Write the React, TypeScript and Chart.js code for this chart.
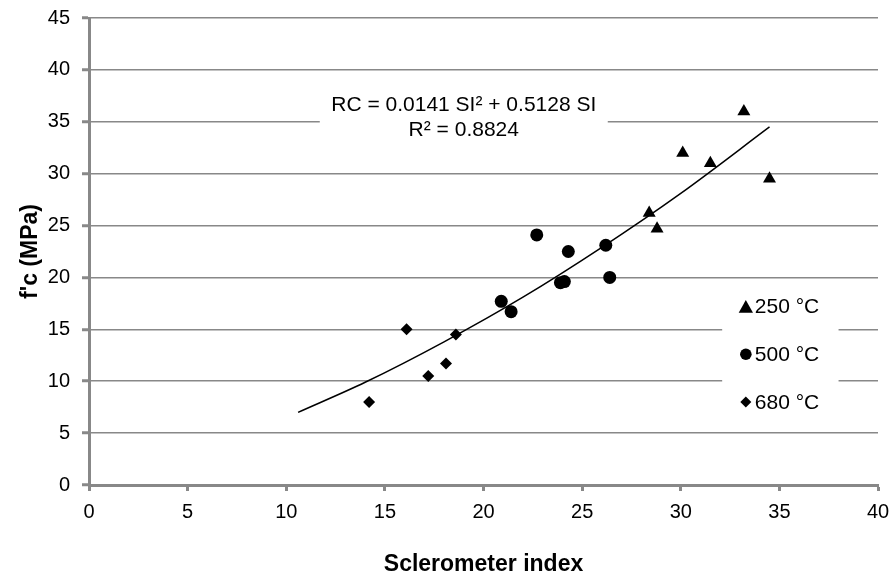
import React, { useEffect, useRef } from "react";
import { Chart, registerables } from "chart.js";

Chart.register(...registerables);

// 250 °C (triangles)
const tri250X = [33.2, 30.1, 31.5, 34.5, 28.4, 28.8];
const tri250Y = [36.0, 32.0, 31.0, 29.5, 26.2, 24.7];
// 500 °C (circles)
const cir500X = [22.7, 24.3, 26.2, 26.4, 23.9, 24.1, 20.9, 21.4];
const cir500Y = [24.1, 22.5, 23.1, 20.0, 19.5, 19.6, 17.7, 16.7];
// 680 °C (diamonds)
const dia680X = [16.1, 18.6, 18.1, 17.2, 14.2];
const dia680Y = [15.0, 14.5, 11.7, 10.5, 8.0];
// trend line
const trendX = [10.6, 14, 18, 22, 26, 30, 34.5];
const trendY = [7.0, 9.9, 13.8, 18.1, 22.9, 28.1, 34.5];

const seriesLabels = ["250 °C", "500 °C", "680 °C"];
const equationLines = ["RC = 0.0141 SI² + 0.5128 SI", "R² = 0.8824"];
const xTitle = "Sclerometer index";
const yTitle = "f'c (MPa)";

const FONT = "'Liberation Sans', Arial, sans-serif";
const GRID = "#888888";

const toPts = (xs: number[], ys: number[]) => xs.map((x, i) => ({ x, y: ys[i] }));

function drawMarker(ctx: CanvasRenderingContext2D, kind: string, x: number, y: number, r: number) {
  ctx.beginPath();
  if (kind === "triangle") {
    ctx.moveTo(x, y - r);
    ctx.lineTo(x + r * 1.1, y + r * 0.95);
    ctx.lineTo(x - r * 1.1, y + r * 0.95);
    ctx.closePath();
  } else if (kind === "circle") {
    ctx.arc(x, y, r, 0, Math.PI * 2);
  } else {
    ctx.moveTo(x, y - r);
    ctx.lineTo(x + r, y);
    ctx.lineTo(x, y + r);
    ctx.lineTo(x - r, y);
    ctx.closePath();
  }
  ctx.fillStyle = "#000";
  ctx.fill();
}

const overlayPlugin = {
  id: "overlay",
  afterDraw(chart: any) {
    const { ctx, chartArea, scales } = chart;
    const xs = scales.x;
    const ys = scales.y;
    ctx.save();
    // equation box
    const eqCx = xs.getPixelForValue(19.0);
    const eqY1 = ys.getPixelForValue(36.7);
    const eqY2 = ys.getPixelForValue(34.3);
    ctx.fillStyle = "#fff";
    ctx.fillRect(xs.getPixelForValue(11.7), eqY1 - 13, xs.getPixelForValue(26.3) - xs.getPixelForValue(11.7), eqY2 - eqY1 + 26);
    ctx.fillStyle = "#000";
    ctx.font = `21px ${FONT}`;
    ctx.textAlign = "center";
    ctx.textBaseline = "middle";
    ctx.fillText(equationLines[0], eqCx, eqY1 + 1);
    ctx.fillText(equationLines[1], eqCx, eqY2 + 1);

    // legend
    const lx1 = xs.getPixelForValue(32.1);
    const lx2 = xs.getPixelForValue(38.0);
    const rowY = [ys.getPixelForValue(17.2), ys.getPixelForValue(12.6), ys.getPixelForValue(8.0)];
    ctx.fillStyle = "#fff";
    ctx.fillRect(lx1, rowY[0] - 22, lx2 - lx1, rowY[2] - rowY[0] + 44);
    const kinds = ["triangle", "circle", "diamond"];
    const sizes = [6.5, 5.8, 5.5];
    const mx = xs.getPixelForValue(33.3);
    ctx.font = `21px ${FONT}`;
    ctx.textAlign = "left";
    ctx.textBaseline = "middle";
    for (let i = 0; i < 3; i++) {
      drawMarker(ctx, kinds[i], mx, rowY[i], sizes[i]);
      ctx.fillStyle = "#000";
      ctx.fillText(seriesLabels[i], mx + 9, rowY[i] + 1);
    }

    // axis titles
    ctx.font = `bold 23px ${FONT}`;
    ctx.fillStyle = "#000";
    ctx.textAlign = "center";
    ctx.textBaseline = "middle";
    ctx.fillText(xTitle, (chartArea.left + chartArea.right) / 2, 565);
    ctx.translate(31, (chartArea.top + chartArea.bottom) / 2);
    ctx.rotate(-Math.PI / 2);
    ctx.fillText(yTitle, 0, 0);
    ctx.restore();
  },
};

export default function App() {
  const ref = useRef<HTMLCanvasElement>(null);
  useEffect(() => {
    document.body.style.margin = "0";
    const chart = new Chart(ref.current as HTMLCanvasElement, {
      type: "scatter",
      data: {
        datasets: [
          {
            type: "line",
            data: toPts(trendX, trendY),
            borderColor: "#000",
            borderWidth: 1.5,
            pointRadius: 0,
            cubicInterpolationMode: "monotone",
            fill: false,
          } as any,
          {
            label: seriesLabels[0],
            data: toPts(tri250X, tri250Y),
            pointStyle: "triangle",
            pointRadius: 7.5,
            backgroundColor: "#000",
            borderColor: "#000",
            borderWidth: 0,
          },
          {
            label: seriesLabels[1],
            data: toPts(cir500X, cir500Y),
            pointStyle: "circle",
            pointRadius: 6.5,
            backgroundColor: "#000",
            borderColor: "#000",
            borderWidth: 0,
          },
          {
            label: seriesLabels[2],
            data: toPts(dia680X, dia680Y),
            pointStyle: "rectRot",
            pointRadius: 6,
            backgroundColor: "#000",
            borderColor: "#000",
            borderWidth: 0,
          },
        ],
      },
      options: {
        responsive: false,
        animation: false,
        devicePixelRatio: 1,
        layout: { padding: { left: 0, top: 18, right: 17, bottom: 0 } },
        plugins: { legend: { display: false }, tooltip: { enabled: false } },
        scales: {
          x: {
            type: "linear",
            min: 0,
            max: 40,
            ticks: { stepSize: 5, color: "#000", font: { family: FONT, size: 20 }, padding: 9 },
            grid: { drawOnChartArea: false, drawTicks: true, tickLength: 6, tickWidth: 3, tickColor: GRID },
            border: { color: GRID, width: 3 },
            afterFit: (s: any) => {
              s.height = 101;
              s.paddingLeft = 0;
              s.paddingRight = 0;
            },
          },
          y: {
            type: "linear",
            min: 0,
            max: 45,
            ticks: { stepSize: 5, color: "#000", font: { family: FONT, size: 20 }, padding: 12 },
            grid: { color: GRID, lineWidth: 1.5, drawTicks: true, tickLength: 7, tickWidth: 3, tickColor: GRID },
            border: { color: GRID, width: 3 },
            afterFit: (s: any) => {
              s.width = 89;
              s.paddingTop = 0;
              s.paddingBottom = 0;
            },
          },
        },
      } as any,
      plugins: [overlayPlugin],
    });
    return () => chart.destroy();
  }, []);
  return (
    <div style={{ position: "absolute", left: 0, top: 0, width: 895, height: 586, background: "#fff" }}>
      <canvas ref={ref} width={895} height={586} />
    </div>
  );
}
